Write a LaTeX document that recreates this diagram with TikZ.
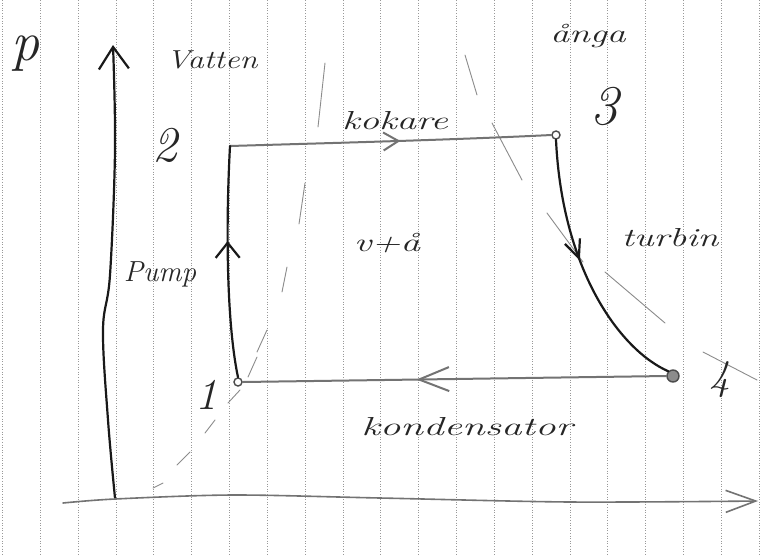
\documentclass[tikz,border=0pt]{standalone}
\usepackage{graphicx}
\usetikzlibrary{arrows.meta,decorations.markings}
\newcommand\hwx[2]{\scalebox{#1}[1]{#2}}
\tikzset{
  gridline/.style={draw=black!40, line width=0.7pt, dash pattern=on 0.8pt off 1.8pt},
  pen/.style={draw=black!90, line width=2.2pt, line cap=round, line join=round},
  pencil/.style={draw=black!55, line width=2pt, line cap=round, line join=round},
  dome/.style={draw=black!45, line width=0.9pt, line cap=round},
  hand/.style={text=black!85, inner sep=0pt, font=\fontsize{26}{30}\selectfont\itshape},
  digit/.style={text=black!85, inner sep=0pt, font=\fontsize{50}{56}\selectfont\itshape},
  ptmark/.style={circle, draw=black!70, line width=1.4pt, inner sep=0pt},
  midarrow/.style args={#1/#2/#3}{postaction={decorate, decoration={markings,
      mark=at position #1 with {\arrow{Straight Barb[length=#2pt,width=#3pt]}}}}}
}
\begin{document}
\begin{tikzpicture}[x=1pt,y=-1pt]
\useasboundingbox (0,0) rectangle (765,555);
\fill[white] (0,0) rectangle (765,555);
% grid paper
\foreach \i in {0,...,20}{
  \draw[gridline] ({2.4+37.83*\i},0) -- ({2.4+37.83*\i},555);
}
% saturation dome strokes
\draw[dome] (325,63) -- (318,127);
\draw[dome] (305,183) -- (299,224);
\draw[dome] (287,267) -- (282,292);
\draw[dome] (267,330) -- (257,352);
\draw[dome] (257,357) -- (248,377);
\draw[dome] (240,390) -- (228,403);
\draw[dome] (215,420) -- (205,433);
\draw[dome] (190,452) -- (177,465);
\draw[dome] (163,483) -- (153,488);
\draw[dome] (465,55) -- (477,95);
\draw[dome] (492,123) -- (522,180);
\draw[dome] (547,213) -- (583,262);
\draw[dome] (605,272) -- (665,323);
\draw[dome] (703,352) -- (757,380);
% axes
\coordinate (o) at (115,498);
\coordinate (ytip) at (113,45);
\coordinate (xstart) at (63,503);
\coordinate (xtip) at (758,501);
\draw[pen, -{Straight Barb[length=22pt,width=30pt]}] plot[smooth, tension=0.6] coordinates {(o) (108,420) (103,330) (110,275) (115,150) (ytip)};
\draw[pencil, line width=1.6pt, -{Straight Barb[length=30pt,width=22pt]}] plot[smooth, tension=0.5] coordinates {(xstart) (115,499) (233,495) (380,498) (570,502) (xtip)};
% cycle points
\node[ptmark, minimum size=8pt] (n1) at (238,382) {};
\coordinate (n2) at (230,146);
\node[ptmark, minimum size=8pt] (n3) at (556,135) {};
\node[ptmark, minimum size=12pt, fill=black!45] (n4) at (673,376) {};
% processes
\draw[pencil, midarrow=0.53/15/18] (n2) .. controls (330,143) and (450,140) .. (n3.west);
\draw[pen, midarrow=0.46/18/16] (n3.south) .. controls (562,270) and (620,350) .. (n4.north west);
\draw[pencil, midarrow=0.59/30/24] (n4.west) -- (n1.east);
\draw[pen, midarrow=0.59/15/24] (n1.north) .. controls (226,320) and (226,220) .. (n2);
% labels
\node[digit, font=\fontsize{56}{60}\selectfont\itshape] (lp) at (25,54) {p};
\node[hand] (lvatten) at (212,60) {\hwx{1.25}{Vatten}};
\node[hand] (langa) at (588,36) {\hwx{1.45}{ånga}};
\node[hand] (lkokare) at (395,121) {\hwx{1.5}{kokare}};
\node[digit] (l2) at (165,145) {2};
\node[digit, font=\fontsize{56}{60}\selectfont\itshape] (l3) at (604,106) {3};
\node[hand] (lturbin) at (670,238) {\hwx{1.45}{turbin}};
\node[hand] (lva) at (387,243) {\hwx{1.5}{v+å}};
\node[hand, font=\fontsize{29}{33}\selectfont\itshape] (lpump) at (160,274) {Pump};
\node[digit, font=\fontsize{44}{50}\selectfont\itshape] (l1) at (206,395) {1};
\node[digit, font=\fontsize{42}{48}\selectfont\itshape] (l4) at (720,380) {4};
\node[hand] (lkond) at (467,427) {\hwx{1.58}{kondensator}};
\end{tikzpicture}
\end{document}
